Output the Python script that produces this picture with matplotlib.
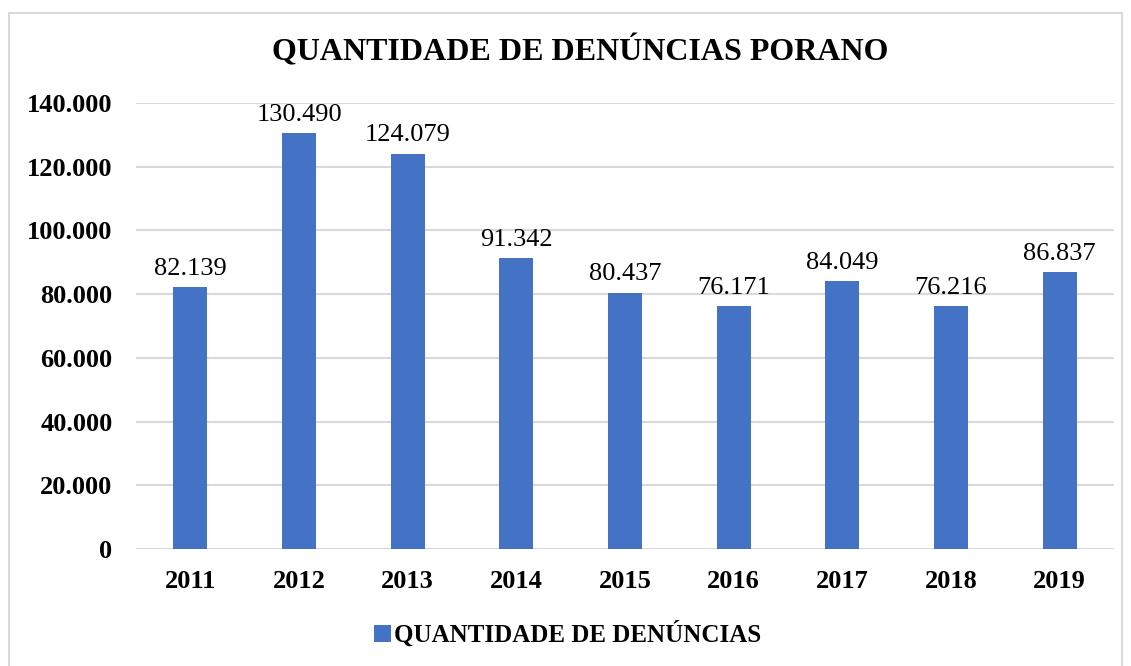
import matplotlib.pyplot as plt
from matplotlib.patches import Rectangle

years = ['2011', '2012', '2013', '2014', '2015', '2016', '2017', '2018', '2019']
denuncias = [82139, 130490, 124079, 91342, 80437, 76171, 84049, 76216, 86837]
value_labels = ['82.139', '130.490', '124.079', '91.342', '80.437', '76.171', '84.049', '76.216', '86.837']
y_ticks = [0, 20000, 40000, 60000, 80000, 100000, 120000, 140000]
y_tick_labels = ['0', '20.000', '40.000', '60.000', '80.000', '100.000', '120.000', '140.000']

plt.rcParams['font.family'] = ['Liberation Serif', 'DejaVu Serif']

fig = plt.figure(figsize=(11.31, 6.66), dpi=100)
# outer frame of the chart
fig.patches.append(Rectangle((9 / 1131, -0.01), 1113 / 1131, 1 - 13 / 666 + 0.01,
                             transform=fig.transFigure, fill=False,
                             edgecolor='#d9d9d9', linewidth=1.5))

ax = fig.add_axes([136 / 1131, 117 / 666, 978 / 1131, 446 / 666])
x = range(len(years))
bars = ax.bar(x, denuncias, width=0.31, color='#4472C4', zorder=3)

for xi, v, lab in zip(x, denuncias, value_labels):
    ax.text(xi, v + 2300, lab, ha='center', va='bottom', fontsize=19)

ax.set_xlim(-0.5, len(years) - 0.5)
ax.set_ylim(0, 140000)
ax.set_yticks(y_ticks)
ax.set_yticklabels(y_tick_labels, fontsize=19, fontweight='bold')
ax.set_xticks(list(x))
ax.set_xticklabels(years, fontsize=19, fontweight='bold')
ax.tick_params(length=0)
ax.tick_params(axis='y', pad=17)
ax.tick_params(axis='x', pad=15)
ax.grid(axis='y', color='#d9d9d9', linewidth=1.5, zorder=0)
for s in ax.spines.values():
    s.set_visible(False)

fig.text(580 / 1131, 1 - 51 / 666, 'QUANTIDADE DE DENÚNCIAS PORANO', ha='center', va='center',
         fontsize=23, fontweight='bold')

leg = ax.legend([bars], ['QUANTIDADE DE DENÚNCIAS'], loc='center', bbox_to_anchor=(568 / 1131, 1 - 634 / 666),
                bbox_transform=fig.transFigure, frameon=False, handlelength=0.65, handleheight=0.65,
                handletextpad=0.15, prop={'size': 18, 'weight': 'bold'})

fig.savefig('out.png', dpi=100)
